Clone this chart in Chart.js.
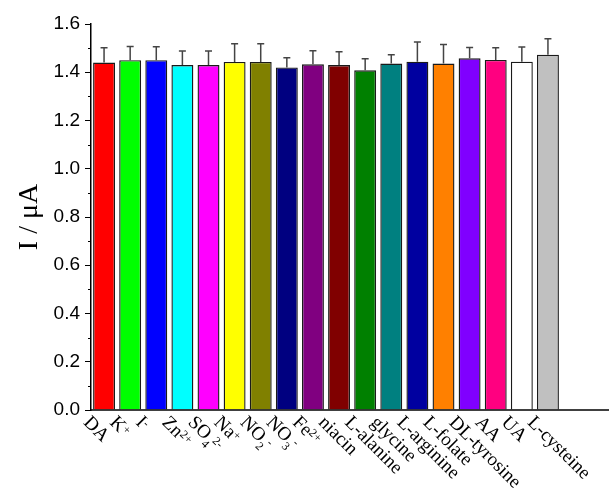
<!DOCTYPE html>
<html>
<head>
<meta charset="utf-8">
<script src="https://cdn.jsdelivr.net/npm/chart.js@4"></script>
<style>
  html, body { margin:0; padding:0; background:#fff; }
  #wrap { width:609px; height:499px; position:relative; }
</style>
</head>
<body>
<div id="wrap"><canvas id="c"></canvas></div>
<script>
// ── data ───────────────────────────────────────────────────────────────────
const LABELS  = ["DA","K^{+}","I^{-}","Zn^{2+}","SO_{4}^{2-}","Na^{+}","NO_{2}^{-}","NO_{3}^{-}","Fe^{2+}",
                 "niacin","L-alanine","glycine","L-arginine","L-folate","DL-tyrosine","AA","UA","L-cysteine"];
const CURRENT = [1.44,1.45,1.45,1.43,1.43,1.443,1.443,1.42,1.433,1.43,1.408,1.436,1.444,1.436,1.458,1.451,1.444,1.473];
const ERRORS  = [0.062,0.057,0.056,0.058,0.058,0.075,0.075,0.04,0.056,0.055,0.048,0.037,0.081,0.079,0.045,0.051,0.061,0.066];
const COLORS  = ["#ff0000","#00ff00","#0000ff","#00ffff","#ff00ff","#ffff00","#808000","#000080","#800080",
                 "#800000","#008000","#008080","#0000a0","#ff8000","#8000ff","#ff0080","#ffffff","#c0c0c0"];
const Y_MIN = 0, Y_MAX = 1.6, Y_STEP = 0.2;

// draw "Zn^{2+}" / "SO_{4}^{2-}" style labels, rotated, starting at (x,y)
function richText(ctx, str, x, y){
  const parts = str.split(/(\^\{[^}]*\}|_\{[^}]*\})/).filter(Boolean);
  ctx.save();
  ctx.translate(x, y);
  ctx.rotate(Math.PI / 4);
  ctx.textBaseline = "top"; ctx.textAlign = "left"; ctx.fillStyle = "#000";
  let cx = 0;
  for (const p of parts){
    let txt = p, size = 19, dy = 0;
    if (p[0] === "^"){ txt = p.slice(2,-1); size = 12; dy = 1; }
    else if (p[0] === "_"){ txt = p.slice(2,-1); size = 12; dy = 11; }
    ctx.font = size + "px 'Liberation Serif', 'Times New Roman', serif";
    ctx.fillText(txt, cx, dy);
    cx += ctx.measureText(txt).width;
  }
  ctx.restore();
}

const extras = {
  id:"extras",
  afterDatasetsDraw(chart){
    const { ctx } = chart, y = chart.scales.y;
    const meta = chart.getDatasetMeta(0);
    ctx.save();
    ctx.strokeStyle = "#444"; ctx.lineWidth = 1.5;
    meta.data.forEach((bar, i) => {
      const top = y.getPixelForValue(CURRENT[i]);
      const end = y.getPixelForValue(CURRENT[i] + ERRORS[i]);
      ctx.beginPath();
      ctx.moveTo(bar.x, top); ctx.lineTo(bar.x, end);
      ctx.moveTo(bar.x - 3.5, end); ctx.lineTo(bar.x + 3.5, end);
      ctx.stroke();
    });
    ctx.restore();
  },
  afterDraw(chart){
    const { ctx, chartArea:a } = chart, y = chart.scales.y, x = chart.scales.x;
    ctx.save();
    // x axis line runs to the edge
    ctx.strokeStyle = "#000"; ctx.lineWidth = 1.5;
    ctx.beginPath(); ctx.moveTo(a.left, a.bottom); ctx.lineTo(chart.width, a.bottom); ctx.stroke();
    // minor ticks on y
    ctx.lineWidth = 1;
    for (let v = Y_MIN + Y_STEP/2; v < Y_MAX; v += Y_STEP){
      const py = Math.round(y.getPixelForValue(v)) + 0.5;
      ctx.beginPath(); ctx.moveTo(a.left - 3, py); ctx.lineTo(a.left, py); ctx.stroke();
    }
    // rotated category labels
    LABELS.forEach((lb, i) => richText(ctx, lb, x.getPixelForTick(i) - 11, a.bottom + 3));
    ctx.restore();
  }
};

new Chart(document.getElementById("c"), {
  type:"bar",
  data:{
    labels: LABELS,
    datasets:[{
      data: CURRENT,
      backgroundColor: COLORS,
      borderColor: "#1a1a1a",
      borderWidth: 1.4,
      categoryPercentage: 1,
      barPercentage: 0.84,
    }],
  },
  options:{
    responsive:true, maintainAspectRatio:false, animation:false,
    layout:{ padding:{ top:24, right:48, bottom:0, left:0 } },
    plugins:{ legend:{ display:false }, tooltip:{ enabled:false } },
    scales:{
      x:{
        grid:{ display:false }, border:{ display:false },
        ticks:{ display:false },
        afterFit: s => { s.height = 89; },
      },
      y:{
        min: Y_MIN, max: Y_MAX,
        afterFit: s => { s.width = 91; },
        grid:{ drawOnChartArea:false, color:"#000", lineWidth:1, tickLength:6 },
        border:{ color:"#000", width:1.5 },
        ticks:{ stepSize: Y_STEP, padding:5, color:"#000",
          font:{ family:"'Liberation Sans', Arial, sans-serif", size:19 },
          callback: v => v.toFixed(1) },
        title:{ display:true, text:"I / μA", color:"#000",
          font:{ family:"'Liberation Serif', 'Times New Roman', serif", size:28, weight:"normal" },
          padding:{ top:13, bottom:0 } },
      },
    },
  },
  plugins:[extras],
});
</script>
</body>
</html>
